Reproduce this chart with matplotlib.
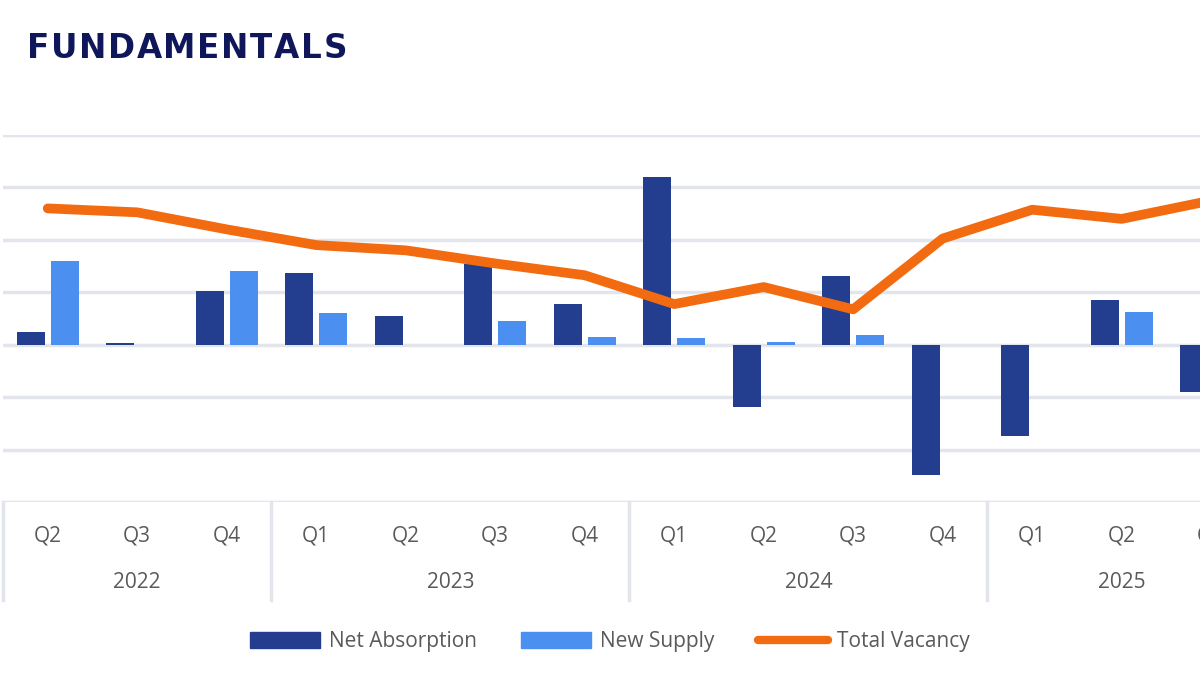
import matplotlib
matplotlib.use("Agg")
import matplotlib.pyplot as plt
import matplotlib.transforms as mtransforms
from matplotlib.patches import Patch
from matplotlib.lines import Line2D

plt.rcParams['font.family'] = ['Open Sans', 'DejaVu Sans']

# quarters shown (chart is cropped at the right edge, after Q3 2025)
quarters = ["Q2", "Q3", "Q4",
            "Q1", "Q2", "Q3", "Q4",
            "Q1", "Q2", "Q3", "Q4",
            "Q1", "Q2", "Q3"]
years = ["2022", "2022", "2022",
         "2023", "2023", "2023", "2023",
         "2024", "2024", "2024", "2024",
         "2025", "2025", "2025"]

# bars, in gridline units (axis labels are cropped off the picture)
net_absorption = [0.25, 0.04, 1.03, 1.36, 0.55, 1.53, 0.78,
                  3.19, -1.18, 1.32, -2.48, -1.74, 0.86, -0.91]
new_supply = [1.60, 0.0, 1.40, 0.61, 0.0, 0.46, 0.15,
              0.13, 0.05, 0.19, 0.0, 0.0, 0.63, 0.0]
# total vacancy, %
total_vacancy = [11.2, 11.05, 10.4, 9.8, 9.6, 9.1, 8.65,
                 7.55, 8.2, 7.35, 10.05, 11.15, 10.8, 11.5]

navy = "#233e8e"
light = "#4b8ff0"
orange = "#f36b10"
grid_c = "#e3e5ec"
text_c = "#5a5a5a"

fig = plt.figure(figsize=(12, 6.75), dpi=100)
ax = fig.add_axes([3 / 1200, 1 - 502 / 675, 1197 / 1200, 367 / 675])
n = len(quarters)
x = list(range(n))
w = 0.31
off = 0.19

ax.bar([i - off for i in x], net_absorption, w, color=navy, zorder=3)
ax.bar([i + off for i in x], new_supply, w, color=light, zorder=3)
ax.set_ylim(-3, 4)
ax.set_yticks(range(-3, 5))
ax.grid(axis='y', color=grid_c, lw=2.5, zorder=0)
ax.set_xlim(-0.5, 12.875)
for s in ax.spines.values():
    s.set_visible(False)

ax2 = ax.twinx()
ax2.plot(x, total_vacancy, color=orange, lw=7, solid_capstyle='round',
         solid_joinstyle='round', zorder=4)
ax2.set_ylim(0, 14)
ax2.set_xlim(-0.5, 12.875)
ax2.axis('off')
ax.tick_params(left=False, right=False, bottom=False,
               labelleft=False, labelright=False, labelbottom=False)

# category axis: quarters and grouped years
tr = mtransforms.blended_transform_factory(ax.transData, fig.transFigure)
for i, q in enumerate(quarters):
    ax.text(i, 1 - 536 / 675, q, transform=tr, ha='center', va='center',
            fontsize=15, color=text_c)

groups = []
for i, y in enumerate(years):
    if not groups or groups[-1][0] != y:
        groups.append([y, [i]])
    else:
        groups[-1][1].append(i)
for y, idx in groups:
    cx = sum(idx) / len(idx)
    ax.text(cx, 1 - 583 / 675, y, transform=tr, ha='center', va='center',
            fontsize=15, color=text_c)
    left = idx[0] - 0.5
    fig.add_artist(Line2D([left, left], [1 - 502 / 675, 1 - 600 / 675],
                          transform=tr, color=grid_c, lw=2.5))

# title, letter-spaced
title = "FUNDAMENTALS"
renderer = fig.canvas.get_renderer()
xpos = 27
gap = 1.6
for ch in title:
    t = fig.text(xpos / 1200, 1 - 48 / 675, ch, fontsize=23.5, fontweight='bold',
                 color="#0f175a", va='center', ha='left', family='DejaVu Sans')
    xpos += t.get_window_extent(renderer).width + gap

handles = [Patch(color=navy, label="Net Absorption"),
           Patch(color=light, label="New Supply"),
           Line2D([0], [0], color=orange, lw=6, solid_capstyle='round',
                  label="Total Vacancy")]
leg = fig.legend(handles=handles, loc='center', bbox_to_anchor=(610 / 1200, 1 - 642 / 675),
                 ncol=3, frameon=False, fontsize=15, handlelength=3.35,
                 handleheight=0.8, handletextpad=0.45, columnspacing=2.1)
for t in leg.get_texts():
    t.set_color(text_c)

fig.savefig("out.png", dpi=100)
